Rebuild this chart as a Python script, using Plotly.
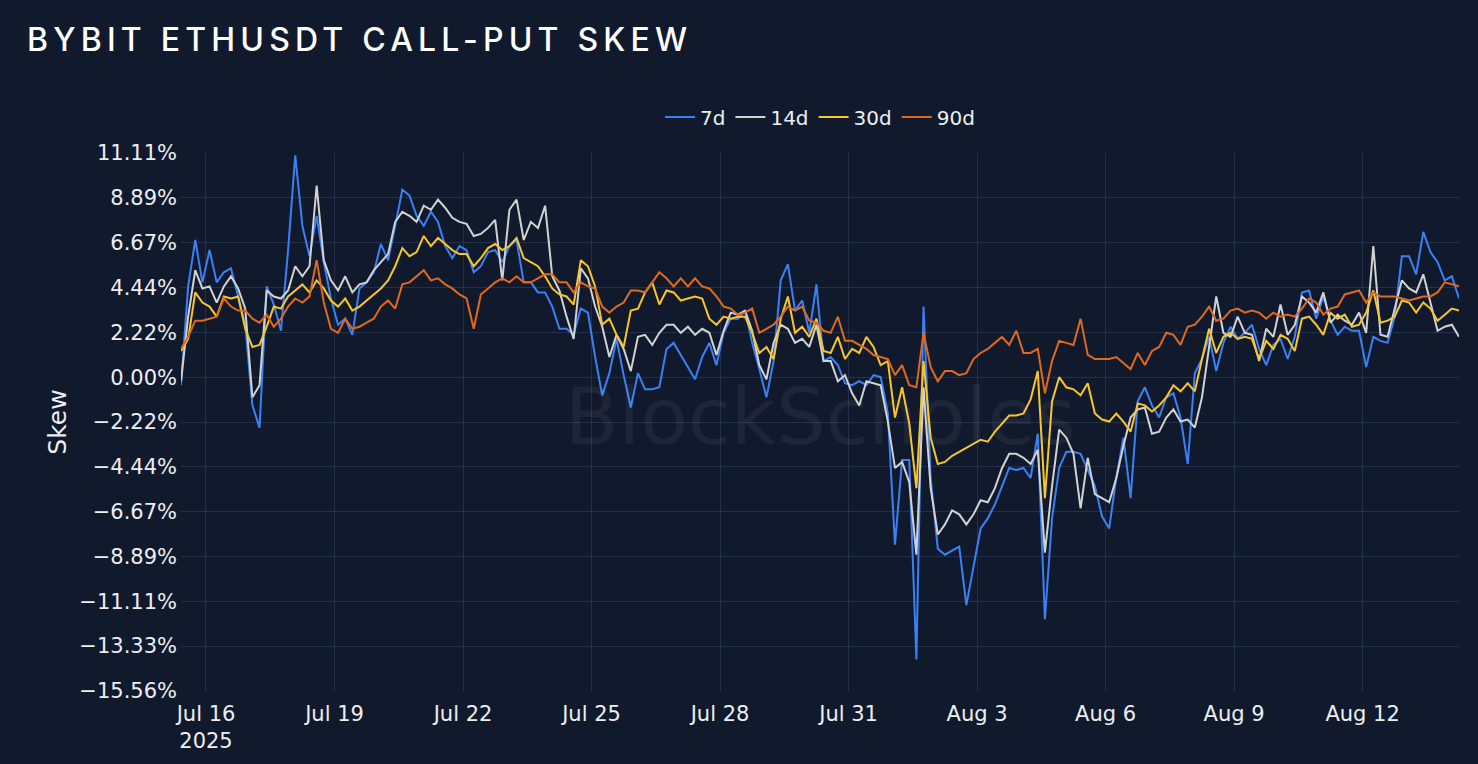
"""
Bybit ETHUSDT call-put skew chart (7d / 14d / 30d / 90d tenors).
"""
import pandas as pd
import plotly.graph_objects as go

# 4-hourly samples, Jul 15 10:00 -> Aug 14 06:00 (180 points)
START = "2025-07-15 10:00"
N_POINTS = 180
FREQ = "4h"

TENORS = ["7d", "14d", "30d", "90d"]

# Skew values in percent, one row = 2 days (12 samples)
SKEW_7D = [
    -0.4, 4.5, 6.8, 4.7, 6.3, 4.7, 5.2, 5.4, 4.0, 2.6, -1.4, -2.5,
    4.5, 3.6, 2.3, 6.3, 11.0, 7.5, 6.0, 8.0, 5.7, 3.9, 2.6, 2.9,
    2.1, 4.4, 4.7, 5.2, 6.6, 5.8, 7.5, 9.3, 9.0, 8.0, 7.5, 8.2,
    7.7, 6.5, 5.9, 6.5, 6.3, 5.2, 5.5, 6.2, 6.3, 5.7, 6.5, 6.8,
    4.7, 4.7, 4.2, 4.2, 3.5, 2.4, 2.4, 2.1, 3.4, 3.2, 1.0, -0.9,
    0.2, 1.9, 0.1, -1.5, 0.2, -0.6, -0.6, -0.5, 1.4, 1.7, 1.1, 0.5,
    -0.1, 1.0, 1.7, 0.6, 2.2, 2.9, 2.9, 3.3, 1.7, 0.4, -1.0, 0.8,
    4.8, 5.6, 3.3, 3.8, 2.2, 4.6, 0.8, 1.0, 0.6, -0.3, -0.4, -0.2,
    -0.4, 0.1, 0.0, -1.8, -8.3, -4.1, -4.1, -14.0, 3.5, -5.0, -8.5, -8.8,
    -8.6, -8.4, -11.3, -9.3, -7.5, -7.0, -6.3, -5.4, -4.5, -4.6, -4.5, -5.0,
    -2.8, -12.0, -7.0, -4.5, -3.7, -3.7, -3.8, -4.6, -5.4, -6.9, -7.5, -5.0,
    -3.0, -6.0, -1.2, -0.5, -1.4, -2.0, -1.0, -0.8, -2.0, -4.3, 0.2, 0.9,
    2.0, 0.3, 1.7, 2.5, 1.9, 2.2, 2.6, 1.4, 0.6, 1.6, 1.9, 0.9,
    2.0, 4.2, 4.3, 2.9, 4.0, 2.8, 2.1, 2.5, 2.3, 2.3, 0.5, 2.0,
    1.8, 1.7, 3.0, 6.0, 6.0, 5.1, 7.2, 6.2, 5.7, 4.8, 5.0, 3.9,
]

SKEW_14D = [
    -0.2, 3.0, 5.3, 4.4, 4.5, 3.7, 4.5, 5.0, 4.4, 3.4, -1.0, -0.4,
    4.3, 4.0, 3.9, 4.3, 5.5, 5.0, 5.5, 9.5, 5.8, 4.8, 4.3, 5.0,
    4.2, 4.6, 4.7, 5.3, 5.7, 6.1, 7.7, 8.2, 8.0, 7.7, 8.5, 8.3,
    8.8, 8.4, 7.9, 7.7, 7.6, 7.0, 7.1, 7.4, 7.8, 4.8, 8.3, 8.8,
    6.8, 7.7, 7.4, 8.5, 5.0, 4.3, 3.0, 1.9, 5.4, 4.9, 3.5, 2.5,
    1.0, 2.1, 1.4, 0.3, 2.0, 2.1, 1.6, 2.2, 2.6, 2.6, 2.2, 2.5,
    2.1, 2.4, 2.2, 1.1, 2.3, 3.2, 3.1, 3.3, 2.3, 0.6, -0.1, 1.7,
    2.6, 2.4, 1.7, 1.9, 1.5, 2.6, 0.8, 0.8, -0.2, 0.1, -0.8, -1.4,
    -0.2, -0.3, -0.4, -2.2, -4.5, -4.2, -5.2, -8.8, -0.5, -5.5, -7.8, -7.3,
    -6.6, -6.8, -7.3, -6.8, -6.1, -6.2, -5.5, -4.5, -3.8, -3.8, -4.0, -4.3,
    -3.6, -8.7, -5.4, -2.6, -3.0, -3.8, -6.5, -4.0, -5.8, -6.0, -6.2, -5.0,
    -3.4, -2.0, -1.6, -1.5, -2.8, -2.7, -2.0, -1.6, -2.2, -2.1, -2.5, -1.0,
    1.4, 4.0, 2.2, 2.0, 3.0, 2.2, 2.1, 0.8, 2.4, 2.0, 3.6, 2.1,
    2.6, 4.0, 3.7, 3.2, 4.2, 2.7, 3.1, 2.8, 2.6, 3.2, 2.2, 6.5,
    2.1, 2.0, 3.4, 4.8, 4.4, 4.2, 5.1, 3.7, 2.3, 2.5, 2.6, 2.0,
]

SKEW_30D = [
    1.3, 1.9, 4.2, 3.7, 3.5, 3.0, 4.0, 3.9, 4.0, 2.4, 1.5, 1.6,
    2.5, 3.5, 3.4, 4.0, 4.3, 4.6, 4.2, 4.8, 4.4, 3.8, 3.5, 3.9,
    3.3, 3.5, 3.8, 4.1, 4.4, 4.8, 5.5, 6.4, 6.0, 6.2, 7.0, 6.5,
    6.9, 6.6, 6.3, 6.1, 6.1, 5.5, 5.9, 6.4, 6.6, 6.3, 6.5, 6.9,
    5.9, 5.7, 5.5, 5.0, 4.4, 4.1, 4.0, 3.6, 5.8, 5.5, 4.5, 2.6,
    2.9, 2.1, 1.5, 3.3, 3.4, 4.2, 4.7, 3.6, 4.3, 4.2, 3.8, 3.9,
    4.0, 3.9, 2.9, 2.6, 3.0, 2.9, 3.0, 3.0, 2.2, 1.2, 1.5, 0.9,
    2.9, 4.0, 2.2, 2.5, 2.0, 2.9, 1.3, 1.2, 2.0, 0.9, 1.4, 1.2,
    2.0, 1.5, 0.6, 0.8, -2.0, -0.5, -2.3, -5.5, 0.8, -3.0, -4.3, -4.2,
    -3.9, -3.7, -3.5, -3.3, -3.1, -3.2, -2.7, -2.3, -1.9, -1.9, -1.8, -1.1,
    0.3, -6.0, -1.2, 0.0, -0.5, -0.6, -0.9, -0.3, -1.8, -2.1, -2.2, -1.8,
    -2.2, -2.7, -1.3, -1.4, -1.7, -1.4, -1.0, -0.4, -0.7, -0.3, -0.7, 0.9,
    2.4, 1.2, 2.0, 2.2, 1.9, 2.0, 1.9, 0.9, 1.8, 1.4, 2.1, 1.9,
    1.3, 2.9, 3.0, 2.6, 2.1, 3.2, 2.9, 3.1, 2.5, 2.6, 3.2, 4.3,
    2.7, 2.8, 3.0, 3.8, 3.7, 3.2, 3.7, 3.4, 2.8, 3.1, 3.4, 3.3,
]

SKEW_90D = [
    1.4, 2.0, 2.8, 2.8, 2.9, 3.0, 3.9, 3.5, 3.3, 3.3, 2.9, 2.7,
    3.1, 2.5, 2.9, 3.5, 3.9, 3.7, 4.0, 5.8, 3.7, 2.4, 2.2, 2.9,
    2.4, 2.5, 2.7, 2.9, 3.5, 3.8, 3.4, 4.6, 4.7, 5.0, 5.3, 4.8,
    4.9, 4.6, 4.4, 4.1, 3.9, 2.4, 4.1, 4.4, 4.7, 4.9, 4.7, 5.0,
    4.7, 4.7, 4.9, 5.1, 5.1, 4.7, 4.7, 4.2, 4.7, 4.5, 4.4, 3.5,
    3.2, 3.5, 3.7, 4.3, 4.3, 4.2, 4.7, 5.2, 4.9, 4.5, 4.9, 4.5,
    4.9, 4.5, 4.4, 4.0, 3.5, 3.4, 3.1, 3.2, 3.4, 2.2, 2.4, 2.6,
    3.0, 3.5, 3.3, 3.5, 2.8, 2.7, 2.3, 2.2, 3.0, 1.8, 1.8, 1.6,
    1.4, 1.1, 1.0, 0.9, 0.1, 0.6, -0.4, -0.5, 2.2, 0.5, -0.2, 0.3,
    0.3, 0.1, 0.2, 0.9, 1.2, 1.4, 1.7, 2.0, 1.6, 2.3, 1.2, 1.2,
    1.4, -0.8, 0.8, 1.8, 1.7, 1.6, 2.9, 1.1, 0.9, 0.9, 0.9, 1.0,
    0.7, 0.4, 1.2, 0.6, 1.3, 1.5, 2.2, 2.1, 1.6, 2.5, 2.6, 3.0,
    3.5, 2.8, 2.9, 3.3, 3.4, 3.2, 3.3, 3.2, 2.9, 3.2, 3.0, 3.1,
    3.0, 3.4, 3.9, 3.7, 3.1, 3.4, 3.5, 4.1, 4.2, 4.3, 3.7, 4.2,
    4.0, 4.0, 4.0, 3.9, 3.8, 3.9, 4.0, 4.0, 4.2, 4.7, 4.6, 4.5,
]

COLORS = ["#3b80f4", "#d2d2d2", "#f8c62a", "#e0691d"]

BG = "#111a2d"
GRID = "#243049"
TEXT = "#eceef1"
FONT = "DejaVu Sans"

# y ticks sit on multiples of 20/9 % (0.00, 2.22, 4.44, ...)
Y_STEP = 20 / 9


def build_figure() -> go.Figure:
    """Create the skew line chart."""
    times = pd.date_range(START, periods=N_POINTS, freq=FREQ)
    series = [SKEW_7D, SKEW_14D, SKEW_30D, SKEW_90D]

    fig = go.Figure()
    for name, values, color in zip(TENORS, series, COLORS):
        fig.add_trace(
            go.Scatter(
                x=times,
                y=values,
                mode="lines",
                name=name,
                line=dict(color=color, width=2),
            )
        )

    # Faint watermark in the middle of the plot
    fig.add_annotation(
        text="BlockScholes",
        xref="paper", yref="paper",
        x=0.5, y=0.51,
        showarrow=False,
        font=dict(family=FONT, size=78, color="rgba(255,255,255,0.05)"),
    )

    fig.update_layout(
        width=1478,
        height=764,
        paper_bgcolor=BG,
        plot_bgcolor=BG,
        font=dict(family=FONT, color=TEXT, size=18),
        margin=dict(l=181, r=19, t=153, b=73),
        title=dict(
            text='<span style="letter-spacing:5.2px">BYBIT ETHUSDT CALL-PUT SKEW</span>',
            font=dict(family="Inter", size=32, color="#ffffff", weight=500),
            xref="container", yref="container",
            x=27 / 1478, xanchor="left",
            y=1 - 40 / 764, yanchor="middle",
        ),
        legend=dict(
            orientation="h",
            x=0.5, xanchor="center",
            y=1.067, yanchor="middle",
            font=dict(size=20, color=TEXT),
            bgcolor="rgba(0,0,0,0)",
        ),
        showlegend=True,
        hovermode="x unified",
    )

    fig.update_xaxes(
        type="date",
        tick0="2025-07-16",
        dtick=3 * 86400000,
        ticklabelstandoff=8,
        showgrid=True,
        gridcolor=GRID,
        gridwidth=1,
        zeroline=False,
        showline=False,
        tickfont=dict(size=21, color=TEXT),
    )

    fig.update_yaxes(
        title=dict(text="Skew", font=dict(size=25, color=TEXT), standoff=5),
        range=[-7 * Y_STEP - 0.002, 5 * Y_STEP + 0.002],
        tick0=0,
        dtick=Y_STEP,
        tickformat=".2f",
        ticksuffix="%",
        ticklabelstandoff=3,
        showgrid=True,
        gridcolor=GRID,
        gridwidth=1,
        zeroline=False,
        showline=False,
        tickfont=dict(size=21, color=TEXT),
    )

    return fig


if __name__ == "__main__":
    fig = build_figure()
    # drop the browser's default body margin so the figure sits at 0,0
    fig.write_html(
        "out.html",
        config={"displayModeBar": False},
        post_script="document.body.style.margin = '0';",
    )
